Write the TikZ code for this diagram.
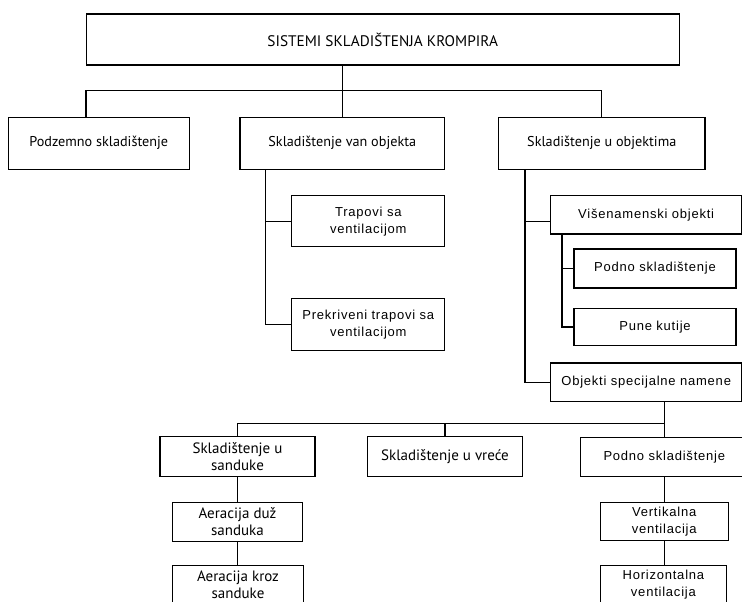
\documentclass[tikz,border=0pt]{standalone}
\usepackage{fontspec}
\setmainfont{Liberation Sans}
\newfontfamily\hum{PT Sans}
\newfontfamily\helv[LetterSpace=6]{Liberation Sans}
\begin{document}
\begin{tikzpicture}[x=1pt,y=-1pt,line width=1.1pt,
  box/.style={draw,line width=1.1pt,inner sep=0pt,align=center},
  sz/.style 2 args={minimum width=#1pt,minimum height=#2pt},
  hbox/.style={box,font=\hum\fontsize{15}{17}\selectfont},
  gbox/.style={box,font=\helv\fontsize{13}{17}\selectfont}]
\useasboundingbox (0,0) rectangle (742,602);
\clip (0,0) rectangle (742,602);
% level 0 and 1
\node[hbox,sz={593.3}{51},font=\hum\fontsize{15.3}{17}\selectfont] (title) at (382.7,39.5) {SISTEMI SKLADIŠTENJA KROMPIRA};
\node[hbox,sz={181}{52},font=\hum\fontsize{14.2}{17}\selectfont] (podz) at (98.8,143.3) {Podzemno skladištenje};
\node[hbox,sz={204.7}{52},font=\hum\fontsize{14.2}{17}\selectfont] (van) at (342.3,143.3) {Skladištenje van objekta};
\node[hbox,sz={206.3}{52},font=\hum\fontsize{14.2}{17}\selectfont] (uobj) at (601.8,143.3) {Skladištenje u objektima};
% under van objekta
\node[gbox,sz={153}{51}] (trap) at (368.3,221.2) {Trapovi sa\\ventilacijom};
\node[gbox,sz={153}{52}] (prek) at (368.3,324.8) {Prekriveni trapovi sa\\ventilacijom};
% under u objektima
\node[gbox,sz={191}{38.3}] (vis) at (646.2,214.8) {Višenamenski objekti};
\node[gbox,sz={162}{39}] (podnoa) at (655,268.5) {Podno skladištenje};
\node[gbox,sz={162}{37.5}] (pune) at (655,327) {Pune kutije};
\node[gbox,sz={191}{38.7}] (spec) at (646.2,382.3) {Objekti specijalne namene};
% lower level
\node[hbox,sz={155}{40}] (sand) at (237.5,456.7) {Skladištenje u\\sanduke};
\node[hbox,sz={155.4}{40}] (vrece) at (445,456.7) {Skladištenje u vreće};
\node[gbox,sz={167}{39.4}] (podnob) at (664.3,457) {Podno skladištenje};
\node[hbox,sz={130.6}{38.7}] (aera) at (237.5,521.7) {Aeracija duž\\sanduka};
\node[hbox,sz={130.6}{38.3}] (aerb) at (238,584.9) {Aeracija kroz\\sanduke};
\node[gbox,sz={128}{38.4}] (vert) at (664.2,521.5) {Vertikalna\\ventilacija};
\node[gbox,sz={126.7}{38.3}] (horiz) at (663.4,584.9) {Horizontalna\\ventilacija};
% coordinates
\coordinate (ba) at (86,90.7);
\coordinate (bb) at (601.8,90.7);
\coordinate (sa) at (265.7,0);
\coordinate (sb) at (525,0);
\coordinate (sc) at (562,0);
\coordinate (vj) at (525,221.7);
\coordinate (bus) at (0,423.3);
% connectors
\draw (title.south -| van) -- (van.north);
\draw (ba |- podz.north) -- (ba) -- (bb) -- (bb |- uobj.north);
\draw (sa |- van.south) |- (prek.west);
\draw (sa |- trap.west) -- (trap.west);
\draw (sb |- uobj.south) |- (spec.west);
\draw (vj) -- (vj -| vis.west);
\draw (sc |- vis.south) |- (pune.west);
\draw (sc |- podnoa.west) -- (podnoa.west);
\draw (podnob.north |- spec.south) -- (podnob.north);
\draw (sand.north) -- (sand.north |- bus) -- (podnob.north |- bus);
\draw (vrece.north) -- (vrece.north |- bus);
\draw (sand.south) -- (aera.north);
\draw (aera.south) -- (aera.south |- aerb.north);
\draw (podnob.south) -- (podnob.south |- vert.north);
\draw (vert.south) -- (vert.south |- horiz.north);
\end{tikzpicture}
\end{document}
